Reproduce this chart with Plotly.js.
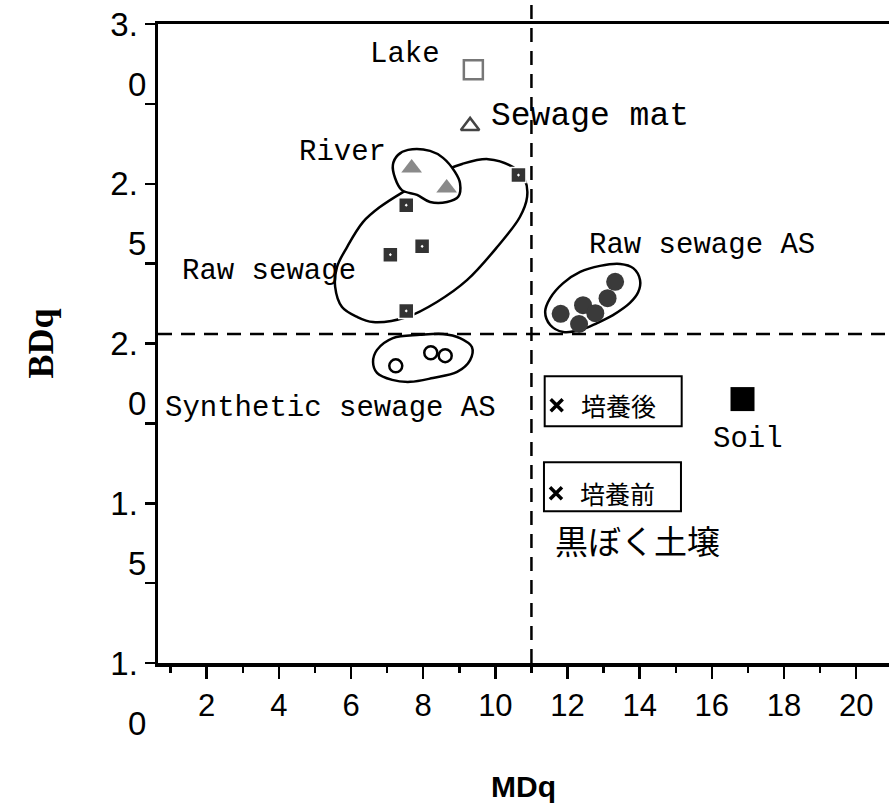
<!DOCTYPE html>
<html><head><meta charset="utf-8">
<script src="https://cdn.plot.ly/plotly-3.0.1.min.js"></script>
<style>html,body{margin:0;padding:0;background:#fff}#chart{width:889px;height:809px}</style>
</head><body><div id="chart"></div>
<script>
// ---------- data ----------
const rawSewageX = [10.64, 7.53, 7.97, 7.09, 7.53];
const rawSewageY = [2.527, 2.433, 2.304, 2.278, 2.102];
const riverX = [7.68, 8.65];
const riverY = [2.549, 2.487];
const lakeX = [9.39];
const lakeY = [2.857];
const sewageMatX = [9.30];
const sewageMatY = [2.681];
const rawSewageAsX = [11.81, 12.43, 12.32, 12.77, 13.11, 13.32];
const rawSewageAsY = [2.093, 2.120, 2.061, 2.095, 2.142, 2.193];
const synthAsX = [7.24, 8.21, 8.61];
const synthAsY = [1.930, 1.971, 1.962];
const soilX = [16.85];
const soilY = [1.826];
const kuroX = [11.70, 11.68];
const kuroY = [1.807, 1.531];
const kuroLabels = ['培養後', '培養前'];
const mdqThreshold = 11.0;
const bdqThreshold = 2.03;

// hand-drawn group outlines
const rawLoopX = [9.80,10.49,10.82,10.88,10.68,10.05,9.22,8.38,7.55,6.61,6.17,5.75,5.56,5.61,5.89,6.33,6.80,7.44,8.25,9.08];
const rawLoopY = [2.577,2.552,2.512,2.459,2.396,2.302,2.199,2.130,2.083,2.067,2.083,2.114,2.177,2.239,2.302,2.380,2.427,2.474,2.524,2.562];
const riverLoopX = [7.58,8.19,8.55,8.88,9.02,8.97,8.66,8.19,7.83,7.41,7.22,7.16,7.30];
const riverLoopY = [2.606,2.603,2.581,2.537,2.502,2.459,2.443,2.443,2.465,2.480,2.518,2.559,2.590];
const synthLoopX = [6.72,7.16,7.91,8.55,9.02,9.35,9.30,8.94,8.27,7.64,7.14,6.72,6.61];
const synthLoopY = [1.980,2.017,2.027,2.030,2.017,1.989,1.948,1.911,1.892,1.880,1.886,1.908,1.942];
const asLoopX = [11.38,11.52,11.88,12.35,12.90,13.46,13.82,14.01,13.96,13.73,13.26,12.82,12.35,11.88,11.52];
const asLoopY = [2.099,2.142,2.189,2.224,2.243,2.249,2.236,2.199,2.161,2.127,2.089,2.064,2.042,2.036,2.058];

// axis ticks
const xTickVals = [2,4,6,8,10,12,14,16,18,20];
const yTickVals = [1.0,1.25,1.5,1.75,2.0,2.25,2.5,2.75,3.0];
const yMajor = [3.0, 2.5, 2.0, 1.5, 1.0];
const yLabelTop = ['3.', '2.', '2.', '1.', '1.'];
const yLabelBottom = ['0', '5', '0', '5', '0'];

// group labels
const groupLabels = ['Lake', 'Sewage mat', 'River', 'Raw sewage', 'Synthetic sewage AS', 'Raw sewage AS', 'Soil'];
const groupLabelX = [7.50, 12.63, 5.76, 3.73, 5.42, 15.73, 17.01];
const groupLabelY = [2.903, 2.712, 2.598, 2.224, 1.798, 2.308, 1.698];
const soilTypeLabel = '黒ぼく土壌';
const soilTypeX = 13.94, soilTypeY = 1.385;

// ---------- helpers ----------
const close = a => a.concat([a[0]]);
const loop = (xs, ys, fill) => ({
  x: close(xs), y: close(ys), mode: 'lines', type: 'scatter',
  line: {color: '#000', width: 2.5, shape: 'spline', smoothing: 1},
  fill: fill ? 'toself' : 'none', fillcolor: '#fff',
  hoverinfo: 'skip', showlegend: false
});
const monoFamily = 'Liberation Mono, DejaVu Sans Mono, monospace';
const cjkFont = {family: 'Noto Sans CJK JP, sans-serif', size: 25, color: '#000'};
const tickFont = {family: 'Liberation Sans, Arial, sans-serif', size: 31, color: '#000'};
const yTickFont = {family: 'Liberation Sans, Arial, sans-serif', size: 33, color: '#000'};

const traces = [
  loop(rawLoopX, rawLoopY, false),
  loop(riverLoopX, riverLoopY, true),
  loop(synthLoopX, synthLoopY, false),
  loop(asLoopX, asLoopY, false),
  {x: rawSewageX, y: rawSewageY, mode: 'markers', type: 'scatter', name: 'Raw sewage',
   marker: {symbol: 'square-dot', size: 15, color: '#333', line: {color: '#fff', width: 1.5}}},
  {x: riverX, y: riverY, mode: 'markers', type: 'scatter', name: 'River',
   marker: {symbol: 'triangle-up', size: 18, color: '#8a8a8a', line: {width: 0}}},
  {x: lakeX, y: lakeY, mode: 'markers', type: 'scatter', name: 'Lake',
   marker: {symbol: 'square-open', size: 19, color: '#777', line: {color: '#777', width: 2.5}}},
  {x: sewageMatX, y: sewageMatY, mode: 'markers', type: 'scatter', name: 'Sewage mat',
   marker: {symbol: 'triangle-up-open', size: 16, color: '#444', line: {color: '#444', width: 2.5}}},
  {x: rawSewageAsX, y: rawSewageAsY, mode: 'markers', type: 'scatter', name: 'Raw sewage AS',
   marker: {symbol: 'circle', size: 18, color: '#3a3a3a', line: {width: 0}}},
  {x: synthAsX, y: synthAsY, mode: 'markers', type: 'scatter', name: 'Synthetic sewage AS',
   marker: {symbol: 'circle-open', size: 13, color: '#000', line: {color: '#000', width: 2.5}}},
  {x: soilX, y: soilY, mode: 'markers', type: 'scatter', name: 'Soil',
   marker: {symbol: 'square', size: 24, color: '#000', line: {width: 0}}},
  {x: kuroX, y: kuroY, mode: 'markers', type: 'scatter', name: '黒ぼく土壌',
   marker: {symbol: 'x-thin', size: 12, color: '#000', line: {color: '#000', width: 3.5}}}
];

const annotations = [];
groupLabels.forEach((t, i) => annotations.push({
  x: groupLabelX[i], y: groupLabelY[i], xref: 'x', yref: 'y', text: t, showarrow: false,
  font: {family: monoFamily, size: t === 'Sewage mat' ? 33 : 29, color: '#000'},
  xanchor: 'center', yanchor: 'middle'
}));
annotations.push({x: soilTypeX, y: soilTypeY, xref: 'x', yref: 'y', text: soilTypeLabel, showarrow: false,
  font: {family: 'Noto Sans CJK JP, sans-serif', size: 33, color: '#000'}, xanchor: 'center', yanchor: 'middle'});
kuroLabels.forEach((t, i) => annotations.push({
  x: kuroX[i], y: kuroY[i], xref: 'x', yref: 'y', text: t, showarrow: false,
  font: cjkFont, xanchor: 'left', yanchor: 'middle', xshift: 22, yshift: 0
}));
yMajor.forEach((v, i) => annotations.push({
  x: 0, y: v, xref: 'paper', yref: 'y', text: yLabelBottom[i], showarrow: false,
  font: yTickFont, xanchor: 'right', yanchor: 'middle', xshift: -10, yshift: -60
}));

const boxOffsets = [[-21, 29], [-18, 31]];
const shapes = [
  {type: 'line', xref: 'paper', yref: 'y', x0: 0, x1: 1, y0: bdqThreshold, y1: bdqThreshold,
   line: {color: '#000', width: 2.5, dash: '14px,9px'}, layer: 'below'},
  {type: 'line', xref: 'x', yref: 'paper', x0: mdqThreshold, x1: mdqThreshold, y0: 0, y1: 1.03,
   line: {color: '#000', width: 2.5, dash: '14px,9px'}, layer: 'below'}
];
kuroX.forEach((xv, i) => shapes.push({
  type: 'rect', xref: 'x', yref: 'y', xsizemode: 'pixel', ysizemode: 'pixel',
  xanchor: xv, yanchor: kuroY[i], x0: -12, x1: 125, y0: boxOffsets[i][0], y1: boxOffsets[i][1],
  line: {color: '#000', width: 2}, fillcolor: 'rgba(0,0,0,0)'
}));

const layout = {
  width: 889, height: 809,
  margin: {l: 158, r: 0, t: 24, b: 146},
  paper_bgcolor: '#fff', plot_bgcolor: '#fff',
  showlegend: false,
  xaxis: {
    range: [0.65, 20.91], showgrid: false, zeroline: false,
    showline: true, mirror: true, linecolor: '#000', linewidth: 3.5,
    ticks: 'outside', ticklen: 12, tickwidth: 2.5, tickcolor: '#000',
    tickmode: 'array', tickvals: xTickVals, ticktext: xTickVals.map(String),
    tickfont: tickFont, ticklabelstandoff: 0,
    minor: {dtick: 1, tick0: 0, ticks: 'outside', ticklen: 6, tickwidth: 2.5, tickcolor: '#000', showgrid: false},
    title: {text: 'MDq', font: {family: 'Liberation Sans, Arial, sans-serif', size: 30, color: '#000', weight: 'bold'}, standoff: 55}
  },
  yaxis: {
    range: [1.0, 3.0], showgrid: false, zeroline: false,
    showline: true, mirror: false, linecolor: '#000', linewidth: 3.5,
    ticks: 'outside', ticklen: 10, tickwidth: 2.5, tickcolor: '#000',
    tickmode: 'array', tickvals: yTickVals,
    ticktext: yTickVals.map(v => { const k = yMajor.indexOf(v); return k >= 0 ? yLabelTop[k] : ''; }),
    tickfont: yTickFont, ticklabelstandoff: 0,
    title: {text: 'BDq', font: {family: 'Liberation Serif, DejaVu Serif, serif', size: 36, color: '#000', weight: 'bold'}, standoff: 47}
  },
  annotations: annotations,
  shapes: shapes
};

Plotly.newPlot('chart', traces, layout, {displayModeBar: false, staticPlot: true});
</script></body></html>
